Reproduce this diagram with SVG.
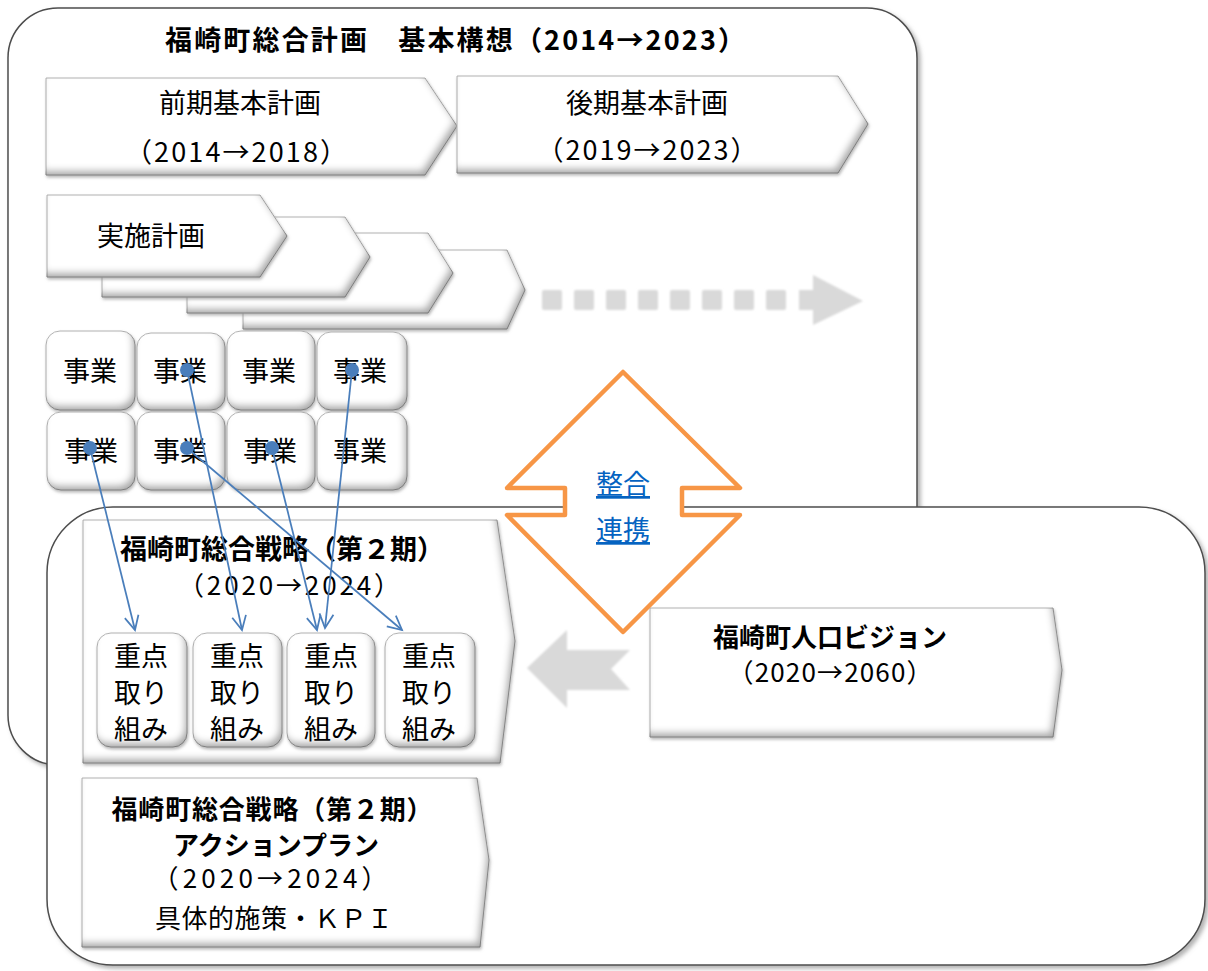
<svg xmlns="http://www.w3.org/2000/svg" width="1208" height="971" viewBox="0 0 1208 971">
<defs>
<style>
text{font-family:"Noto Sans CJK JP","Noto Sans",sans-serif;fill:#000;text-anchor:middle}
.t{font-size:27px}
.b{font-size:27px;font-weight:bold}
.s{font-size:26px}
.sb{font-size:26px;font-weight:bold}
.cont{fill:#fff;stroke:#4d4d4d;stroke-width:1.5;filter:url(#drop)}
.bev{fill:#fff;stroke:#b5b5b5;stroke-width:1;filter:url(#bevel)}
.gray{fill:#d9d9d9;filter:url(#fuzz)}
.conn{stroke:#4a7ebb;stroke-width:1.75;fill:none;marker-start:url(#dot);marker-end:url(#arr)}
.link{font-size:27px;fill:#0563c1;text-decoration:underline}
</style>
<filter id="drop" x="-5%" y="-5%" width="110%" height="110%">
<feGaussianBlur in="SourceAlpha" stdDeviation="2"/>
<feOffset dx="3" dy="3" result="o"/>
<feFlood flood-color="#808080" flood-opacity="0.6"/>
<feComposite in2="o" operator="in" result="s"/>
<feMerge><feMergeNode in="s"/><feMergeNode in="SourceGraphic"/></feMerge>
</filter>
<filter id="bevel" x="-10%" y="-10%" width="120%" height="130%">
<feGaussianBlur in="SourceAlpha" stdDeviation="3.5" result="b"/>
<feOffset in="b" dx="-3" dy="-5" result="o"/>
<feComposite in="SourceAlpha" in2="o" operator="arithmetic" k2="1" k3="-1" result="inner"/>
<feFlood flood-color="#000" flood-opacity="0.6"/>
<feComposite in2="inner" operator="in" result="shade"/>
<feGaussianBlur in="SourceAlpha" stdDeviation="1.5"/>
<feOffset dx="1" dy="2" result="o2"/>
<feFlood flood-color="#888" flood-opacity="0.6"/>
<feComposite in2="o2" operator="in" result="ds"/>
<feMerge><feMergeNode in="ds"/><feMergeNode in="SourceGraphic"/><feMergeNode in="shade"/></feMerge>
</filter>
<filter id="fuzz" x="-20%" y="-20%" width="140%" height="140%">
<feGaussianBlur stdDeviation="0.8"/>
</filter>
<marker id="arr" markerUnits="userSpaceOnUse" markerWidth="18" markerHeight="18" refX="15" refY="8" orient="auto" viewBox="0 0 18 16">
<path d="M1,1 L15,8 L1,15" fill="none" stroke="#4a7ebb" stroke-width="1.75"/>
</marker>
<marker id="dot" markerUnits="userSpaceOnUse" markerWidth="16" markerHeight="16" refX="8" refY="8" viewBox="0 0 16 16">
<circle cx="8" cy="8" r="7" fill="#4a7ebb"/>
</marker>
</defs>
<rect width="1208" height="971" fill="#fff"/>

<g id="kihon-koso">
<rect class="cont" x="8" y="8" width="909" height="757" rx="50"/>
<text class="b" x="455" y="50" textLength="580" lengthAdjust="spacing">福崎町総合計画　基本構想（2014→2023）</text>
</g>

<g id="zenki">
<path class="bev" d="M46,78 H425 L457,126 L425,175 H46 Z"/>
<text class="t" x="240" y="113">前期基本計画</text>
<text class="t" x="236" y="162" textLength="222" lengthAdjust="spacing">（2014→2018）</text>
</g>
<g id="koki">
<path class="bev" d="M457,76 H838 L868,124 L838,173 H457 Z"/>
<text class="t" x="647" y="113">後期基本計画</text>
<text class="t" x="647" y="160" textLength="221" lengthAdjust="spacing">（2019→2023）</text>
</g>

<g id="jisshi">
<path class="bev" d="M243,250 H507 L525,290 L507,329 H243 Z"/>
<path class="bev" d="M187,233 H428 L453,273 L428,313 H187 Z"/>
<path class="bev" d="M102,217 H345 L370,257 L345,297 H102 Z"/>
<path class="bev" d="M47,195 H260 L287,236 L260,277 H47 Z"/>
<text class="t" x="151" y="246">実施計画</text>
</g>

<g id="continue-arrow">
<rect class="gray" x="542" y="290" width="20" height="20" rx="2"/>
<rect class="gray" x="574" y="290" width="20" height="20" rx="2"/>
<rect class="gray" x="606" y="290" width="20" height="20" rx="2"/>
<rect class="gray" x="638" y="290" width="20" height="20" rx="2"/>
<rect class="gray" x="670" y="290" width="20" height="20" rx="2"/>
<rect class="gray" x="702" y="290" width="20" height="20" rx="2"/>
<rect class="gray" x="734" y="290" width="20" height="20" rx="2"/>
<rect class="gray" x="766" y="290" width="20" height="20" rx="2"/>
<path class="gray" d="M799,290 H813 V275 L863,301 L813,325 V310 H799 Z"/>
</g>

<g id="jigyo">
<rect class="bev" x="46" y="331" width="89" height="79" rx="14"/>
<rect class="bev" x="137" y="333" width="88" height="77" rx="14"/>
<rect class="bev" x="227" y="331" width="88" height="79" rx="14"/>
<rect class="bev" x="317" y="332" width="90" height="78" rx="14"/>
<rect class="bev" x="47" y="412" width="88" height="78" rx="14"/>
<rect class="bev" x="137" y="412" width="88" height="78" rx="14"/>
<rect class="bev" x="227" y="412" width="88" height="78" rx="14"/>
<rect class="bev" x="317" y="412" width="90" height="78" rx="14"/>
<text class="t" x="90" y="381">事業</text>
<text class="t" x="180" y="381">事業</text>
<text class="t" x="269" y="381">事業</text>
<text class="t" x="360" y="381">事業</text>
<text class="t" x="91" y="461">事業</text>
<text class="t" x="180" y="461">事業</text>
<text class="t" x="270" y="461">事業</text>
<text class="t" x="360" y="461">事業</text>
</g>

<g id="sogo-senryaku-frame">
<rect class="cont" x="47" y="507" width="1158" height="458" rx="66"/>
</g>

<g id="senryaku">
<path class="bev" d="M83,520 H497 L515,641 L500,763 H83 Z"/>
<text class="b" x="282" y="559">福崎町総合戦略（第２期）</text>
<text class="s" x="289" y="595" textLength="222" lengthAdjust="spacing">（2020→2024）</text>
</g>

<g id="juten">
<rect class="bev" x="97" y="633" width="90" height="114" rx="14"/>
<rect class="bev" x="193" y="633" width="89" height="114" rx="14"/>
<rect class="bev" x="287" y="633" width="88" height="114" rx="14"/>
<rect class="bev" x="385" y="633" width="90" height="114" rx="14"/>
<text class="t" x="141" y="666">重点</text><text class="t" x="141" y="703">取り</text><text class="t" x="141" y="739">組み</text>
<text class="t" x="237" y="666">重点</text><text class="t" x="237" y="703">取り</text><text class="t" x="237" y="739">組み</text>
<text class="t" x="331" y="666">重点</text><text class="t" x="331" y="703">取り</text><text class="t" x="331" y="739">組み</text>
<text class="t" x="429" y="666">重点</text><text class="t" x="429" y="703">取り</text><text class="t" x="429" y="739">組み</text>
</g>

<g id="action-plan">
<path class="bev" d="M82,778 H477 L489,860 L480,947 H82 Z"/>
<text class="sb" x="272" y="819" textLength="321" lengthAdjust="spacing">福崎町総合戦略（第２期）</text>
<text class="sb" x="276" y="855">アクションプラン</text>
<text class="s" x="270" y="888" textLength="235" lengthAdjust="spacing">（2020→2024）</text>
<text class="s" x="274" y="928" textLength="238" lengthAdjust="spacing">具体的施策・ＫＰＩ</text>
</g>

<g id="jinko-vision">
<path class="bev" d="M650,608 H1053 L1062,670 L1053,737 H650 Z"/>
<text class="sb" x="830" y="647" textLength="234" lengthAdjust="spacing">福崎町人口ビジョン</text>
<text class="s" x="830" y="682" textLength="205" lengthAdjust="spacing">（2020→2060）</text>
</g>

<g id="vision-arrow">
<path class="gray" d="M527,668 L567,630 V650 H630 L611,669 L630,690 H567 V708 Z"/>
</g>

<g id="seigo-renkei">
<path d="M623,372 L740,488 H682 V515 H740 L623,632 L507,515 H565 V488 H507 Z" fill="#fff" stroke="#f79646" stroke-width="4.5" stroke-linejoin="round"/>
<text class="link" x="623" y="494">整合</text>
<text class="link" x="623" y="540">連携</text>
</g>

<g id="connectors">
<line class="conn" x1="90" y1="448" x2="135" y2="630"/>
<line class="conn" x1="187" y1="370" x2="242" y2="630"/>
<line class="conn" x1="272" y1="448" x2="317" y2="630"/>
<line class="conn" x1="352" y1="370" x2="325" y2="628"/>
<line class="conn" x1="187" y1="448" x2="402" y2="630"/>
</g>
</svg>
